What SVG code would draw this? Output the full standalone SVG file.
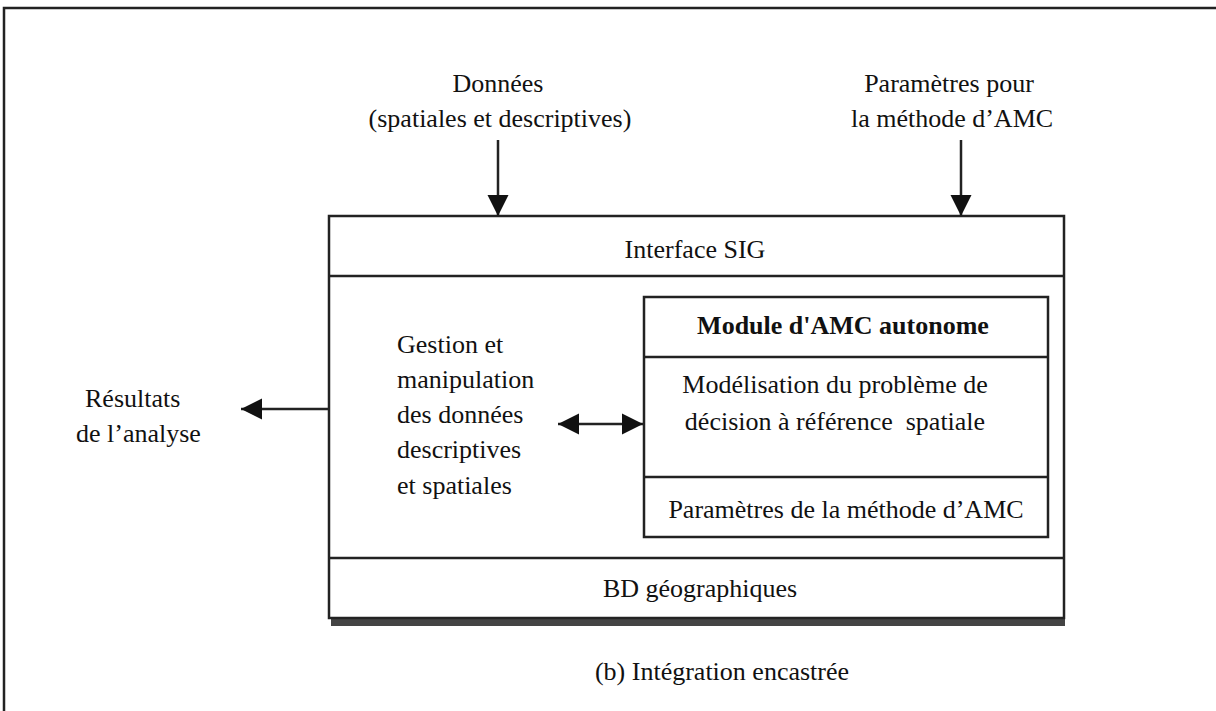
<svg xmlns="http://www.w3.org/2000/svg" width="1216" height="711" viewBox="0 0 1216 711">
<style>
text{font-family:"Liberation Serif","Times New Roman",serif;font-size:26px;fill:#111}
.c{text-anchor:middle}
.b{font-weight:bold}
.box{fill:#fff;stroke:#222;stroke-width:2.5}
.ln{stroke:#222;stroke-width:2.5;fill:none}
</style>
<defs>
<marker id="ah" viewBox="0 0 10 10" refX="10" refY="5" markerWidth="21" markerHeight="22" markerUnits="userSpaceOnUse" orient="auto-start-reverse">
<path d="M0,0 L10,5 L0,10 z" fill="#111"/>
</marker>
</defs>
<rect width="1216" height="711" fill="#fff"/>
<path d="M4,711 V8 H1216" fill="none" stroke="#222" stroke-width="2.5"/>
<g id="inputs">
<text class="c" x="498" y="92">Données</text>
<text class="c" x="500" y="127">(spatiales et descriptives)</text>
<text class="c" x="949" y="92">Paramètres pour</text>
<text class="c" x="952" y="127">la méthode d’AMC</text>
</g>
<g id="resultats">
<text x="85" y="407">Résultats</text>
<text x="76" y="442">de l’analyse</text>
</g>
<g id="sig">
<rect x="331" y="619" width="734" height="7" fill="#444"/>
<rect class="box" x="329" y="216" width="735" height="402"/>
<line class="ln" x1="329" y1="276" x2="1064" y2="276"/>
<line class="ln" x1="329" y1="558" x2="1064" y2="558"/>
<text class="c" x="695" y="258">Interface SIG</text>
<text class="c" x="700" y="597">BD géographiques</text>
</g>
<g id="gestion">
<text x="397" y="353">Gestion et</text>
<text x="397" y="388">manipulation</text>
<text x="397" y="423">des données</text>
<text x="397" y="458">descriptives</text>
<text x="397" y="494">et spatiales</text>
</g>
<g id="module">
<rect class="box" x="644" y="297" width="404" height="240"/>
<line class="ln" x1="644" y1="357" x2="1048" y2="357"/>
<line class="ln" x1="644" y1="477" x2="1048" y2="477"/>
<text class="c b" x="843" y="334">Module d'AMC autonome</text>
<text class="c" x="835" y="393">Modélisation du problème de</text>
<text class="c" x="835" y="430" xml:space="preserve">décision à référence  spatiale</text>
<text class="c" x="846" y="518">Paramètres de la méthode d’AMC</text>
</g>
<text id="caption" class="c" x="722" y="680">(b) Intégration encastrée</text>
<g id="connectors">
<line class="ln" x1="498" y1="140" x2="498" y2="216" marker-end="url(#ah)"/>
<line class="ln" x1="961" y1="140" x2="961" y2="216" marker-end="url(#ah)"/>
<line class="ln" x1="329" y1="409" x2="241" y2="409" marker-end="url(#ah)"/>
<line class="ln" x1="558" y1="424" x2="643" y2="424" marker-start="url(#ah)" marker-end="url(#ah)"/>
</g>
</svg>
